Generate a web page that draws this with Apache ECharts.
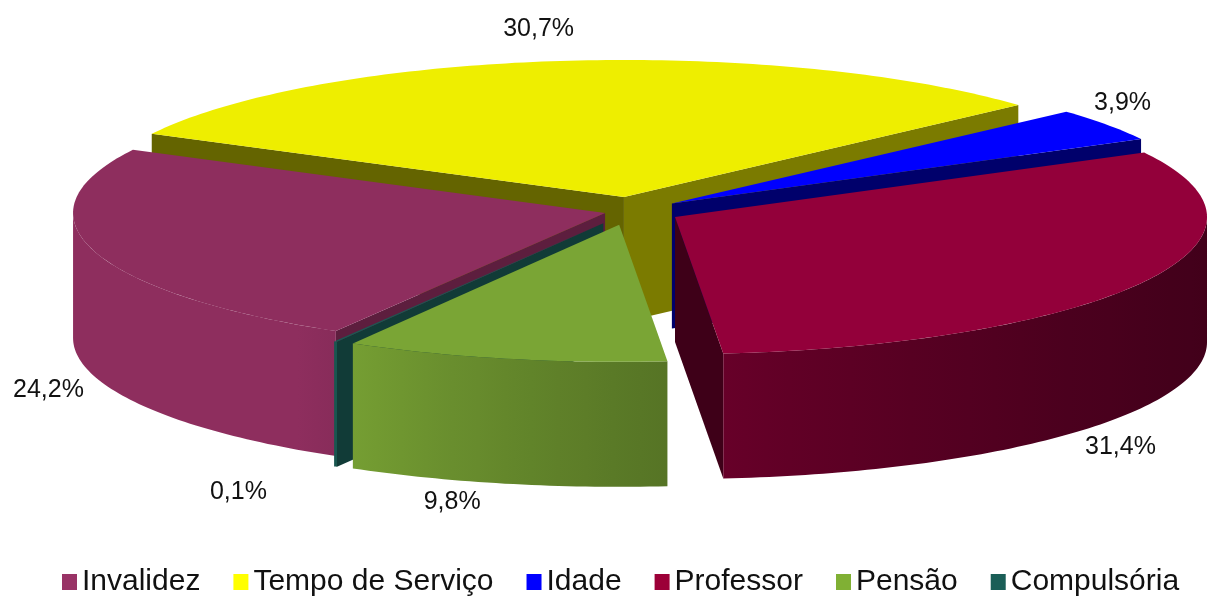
<!DOCTYPE html>
<html>
<head>
<meta charset="utf-8">
<script src="https://cdn.jsdelivr.net/npm/echarts@6/dist/echarts.min.js"></script>
<style>
html, body { margin: 0; padding: 0; background: #fff; }
#chart { width: 1208px; height: 596px; }
</style>
</head>
<body>
<div id="chart"></div>
<script>
// data
const categories = ['Invalidez', 'Tempo de Serviço', 'Idade', 'Professor', 'Pensão', 'Compulsória'];
const values = [24.2, 30.7, 3.9, 31.4, 9.8, 0.1];

// look of the 3d pie
const legendColors = ['#993366', '#FFFF00', '#0000FF', '#9C0038', '#80B034', '#1A5E57'];
const topColors = ['#8E2E5E', '#EEEE00', '#0000FF', '#93003A', '#7AA535', '#1A5A53'];
const explode = [27, 55, 50, 50, 55, 55];
const labelNudge = [[-7, 6], [-12, -2], [-17, -4], [-58, 26], [-44, -11], [-77, 0]];
const cx = 631, cy = 211, rx = 532, ry = 137, depth = 125, startDeg = 120.4;

const d2r = Math.PI / 180;
const total = values.reduce((a, b) => a + b, 0);
const slices = [];
let acc = startDeg;
values.forEach((v, i) => {
    const span = v / total * 360;
    const a0 = acc, a1 = acc + span;
    acc = a1;
    const mid = (a0 + a1) / 2;
    slices.push({
        a0, a1, mid,
        ox: cx + explode[i] * Math.cos(mid * d2r),
        oy: cy + explode[i] * (ry / rx) * Math.sin(mid * d2r)
    });
});

const norm = d => ((d % 360) + 360) % 360;
const rim = (s, deg, down) => [s.ox + rx * Math.cos(deg * d2r), s.oy + ry * Math.sin(deg * d2r) + (down ? depth : 0)];
const arc = (s, a, b, down) => {
    const n = Math.max(2, Math.ceil(Math.abs(b - a)));
    const pts = [];
    for (let j = 0; j <= n; j++) pts.push(rim(s, a + (b - a) * j / n, down));
    return pts;
};
const shade = (hex, f) => {
    const n = parseInt(hex.slice(1), 16);
    return 'rgb(' + Math.round(((n >> 16) & 255) * f) + ',' + Math.round(((n >> 8) & 255) * f) + ',' + Math.round((n & 255) * f) + ')';
};
const wallShade = deg => { const t = Math.min(1, Math.max(0, norm(deg) / 125)); return 0.45 + 0.55 * t * t; };
const faceShade = n => 0.42 + 0.24 * Math.min(1, Math.max(0, (60 - n) / 30));

const sliceShapes = i => {
    const s = slices[i], col = topColors[i], out = [];
    // radial side faces
    [[s.a0, s.a0 - 90], [s.a1, s.a1 + 90]].forEach(([a, n]) => {
        const nn = norm(n);
        if (Math.sin(nn * d2r) <= 0.001) return;
        const p = rim(s, a, false), q = rim(s, a, true);
        out.push({
            type: 'polygon',
            shape: { points: [[s.ox, s.oy], p, q, [s.ox, s.oy + depth]] },
            style: { fill: shade(col, faceShade(nn)) },
            z2: 10 + (s.oy + p[1]) / 20
        });
    });
    // outer walls, front half only
    [-360, 0, 360].forEach(base => {
        const lo = Math.max(s.a0, base), hi = Math.min(s.a1, base + 180);
        if (hi <= lo) return;
        const top = arc(s, lo, hi, false);
        const bot = arc(s, hi, lo, true);
        const xs = top.map(p => p[0]);
        const xmin = Math.min(...xs), xmax = Math.max(...xs);
        let fill;
        if (xmax - xmin < 1) {
            fill = shade(col, wallShade((lo + hi) / 2));
        } else {
            const stops = [];
            for (let j = 0; j <= 12; j++) {
                const d = lo + (hi - lo) * j / 12;
                const x = s.ox + rx * Math.cos(d * d2r);
                stops.push({ offset: Math.min(1, Math.max(0, (x - xmin) / (xmax - xmin))), color: shade(col, wallShade(d)) });
            }
            stops.sort((a, b) => a.offset - b.offset);
            fill = new echarts.graphic.LinearGradient(xmin, 0, xmax, 0, stops, true);
        }
        out.push({
            type: 'polygon',
            shape: { points: top.concat(bot) },
            style: { fill: fill },
            z2: 100 + top[Math.floor(top.length / 2)][1] / 20
        });
    });
    // top face
    out.push({
        type: 'polygon',
        shape: { points: [[s.ox, s.oy]].concat(arc(s, s.a0, s.a1, false)) },
        style: { fill: col },
        z2: 200 + s.oy / 20
    });
    // percentage label
    const m = s.mid * d2r;
    const lx = s.ox + (rx + 40) * Math.cos(m) + labelNudge[i][0];
    const ly = s.oy + (ry + 30) * Math.sin(m) + (Math.sin(m) > 0 ? depth : 0) + labelNudge[i][1];
    out.push({
        type: 'text',
        x: lx, y: ly,
        style: {
            text: values[i].toFixed(1).replace('.', ',') + '%',
            fill: '#111',
            fontSize: 25,
            fontFamily: 'Liberation Sans',
            align: 'center', verticalAlign: 'middle',
            textAlign: 'center', textVerticalAlign: 'middle'
        },
        z2: 400
    });
    return out;
};

const myChart = echarts.init(document.getElementById('chart'));
const option = {
    animation: false,
    color: legendColors,
    legend: {
        data: categories,
        top: 561,
        left: 57,
        icon: 'rect',
        itemWidth: 15,
        itemHeight: 16,
        itemGap: 33,
        textStyle: { fontSize: 30, lineHeight: 32, fontFamily: 'Liberation Sans', color: '#111' }
    },
    series: categories.map((name, i) => ({
        name: name,
        type: 'custom',
        coordinateSystem: 'none',
        silent: true,
        itemStyle: { color: legendColors[i] },
        data: [values[i]],
        renderItem: () => ({ type: 'group', children: sliceShapes(i) })
    }))
};
myChart.setOption(option);
</script>
</body>
</html>
